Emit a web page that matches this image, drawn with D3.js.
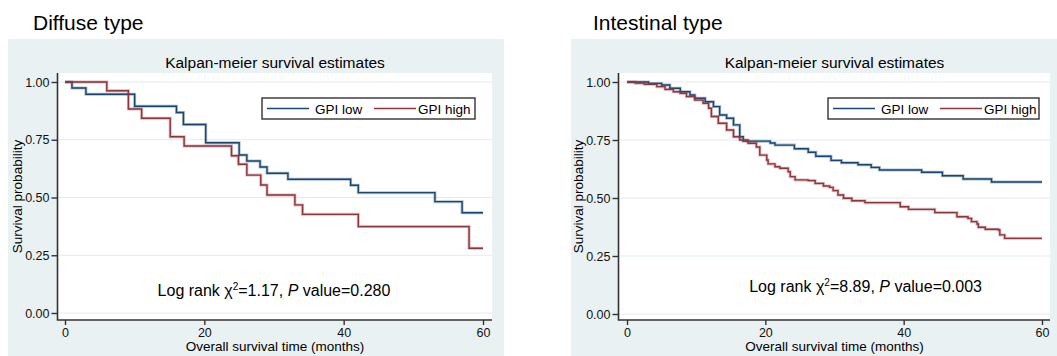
<!DOCTYPE html>
<html>
<head>
<meta charset="utf-8">
<script src="https://cdn.jsdelivr.net/npm/d3@7"></script>
<style>
  html, body { margin: 0; padding: 0; background: #fff; }
  svg { display: block; font-family: "Liberation Sans", Arial, sans-serif; }
</style>
</head>
<body>
<div id="chart"></div>
<script>
// Kaplan-Meier curves (time in months, survival probability)

// Diffuse type
const diffuseLowTime = [0, 1, 3, 10, 16, 17, 20.2, 25, 26.1, 28, 29, 32, 41, 42.1, 53.1, 57, 60];
const diffuseLowSurv = [1, 0.974, 0.947, 0.895, 0.868, 0.816, 0.737, 0.684, 0.658, 0.632, 0.605, 0.579, 0.553, 0.521, 0.482, 0.434, 0.434];
const diffuseHighTime = [0, 6, 9.1, 11, 15.1, 17.1, 23.9, 24.9, 26.1, 28.1, 29, 33, 34.1, 42.1, 58, 60];
const diffuseHighSurv = [1, 0.962, 0.883, 0.843, 0.763, 0.723, 0.681, 0.644, 0.597, 0.554, 0.511, 0.468, 0.427, 0.374, 0.28, 0.28];

// Intestinal type
const intestinalLowTime = [0, 3.1, 5.0, 6.2, 7.7, 9.1, 9.8, 11.3, 12.5, 13.4, 14.4, 15.4, 16.3, 16.8, 20.7, 21.4, 24.2, 26.2, 27.3, 29.5, 31, 33.4, 35.3, 36.5, 42.6, 45.6, 48.6, 52.7, 60];
const intestinalLowSurv = [1, 0.994, 0.987, 0.973, 0.958, 0.944, 0.93, 0.915, 0.894, 0.858, 0.844, 0.815, 0.764, 0.745, 0.737, 0.728, 0.712, 0.697, 0.68, 0.662, 0.652, 0.643, 0.632, 0.621, 0.611, 0.596, 0.582, 0.569, 0.569];
const intestinalHighTime = [0, 1.2, 2.5, 4.3, 5.5, 6.7, 7.7, 8.6, 9.8, 11.0, 11.8, 12.2, 13.2, 14.4, 15.4, 16.3, 17.5, 18.7, 19.2, 20.2, 20.4, 21.4, 22.1, 23.3, 23.6, 24.3, 26.2, 27.2, 28.4, 29.3, 29.8, 30.5, 31.3, 32.5, 34.4, 39.5, 40.7, 44.5, 47.7, 49.3, 49.8, 50.6, 50.8, 51.8, 53.7, 53.9, 54.6, 60];
const intestinalHighSurv = [1, 0.995, 0.99, 0.98, 0.968, 0.958, 0.951, 0.937, 0.922, 0.908, 0.887, 0.851, 0.822, 0.793, 0.764, 0.75, 0.736, 0.72, 0.685, 0.664, 0.647, 0.635, 0.628, 0.613, 0.592, 0.578, 0.575, 0.563, 0.552, 0.546, 0.532, 0.513, 0.499, 0.488, 0.48, 0.462, 0.451, 0.437, 0.419, 0.412, 0.398, 0.388, 0.374, 0.365, 0.362, 0.341, 0.326, 0.326];

const xTicks = [0, 20, 40, 60];
const yTicks = [0, 0.25, 0.5, 0.75, 1];
const seriesNames = ["GPI low", "GPI high"];
const panelTitles = ["Diffuse type", "Intestinal type"];
const plotTitle = "Kalpan-meier survival estimates";
const xTitle = "Overall survival time (months)";
const yTitle = "Survival probability";
const chiValues = ["1.17", "8.89"];
const pValues = ["0.280", "0.003"];

const colors = ["#1a476f", "#90353b"];
const bgColor = "#e9f1f3";

const svg = d3.select("#chart").append("svg")
  .attr("width", 1057)
  .attr("height", 356);

// layout for each panel (pixels)
const panels = [
  { title: panelTitles[0], titleX: 33,
    bg: [8, 39, 496, 317], plot: [58, 73, 492, 320],
    xr: [65, 483], yr: [313, 82],
    legend: [262, 98, 213, 21], yTitleX: 21.5,
    note: [30, 0.1],
    low: [diffuseLowTime, diffuseLowSurv], high: [diffuseHighTime, diffuseHighSurv],
    chi: chiValues[0], p: pValues[0] },
  { title: panelTitles[1], titleX: 593,
    bg: [571, 39, 486, 317], plot: [619, 73, 1050, 320],
    xr: [627, 1042], yr: [314, 82],
    legend: [828, 98, 211, 21], yTitleX: 583,
    note: [34.5, 0.12],
    low: [intestinalLowTime, intestinalLowSurv], high: [intestinalHighTime, intestinalHighSurv],
    chi: chiValues[1], p: pValues[1] }
];

panels.forEach(p => {
  const g = svg.append("g");
  const [px0, py0, px1, py1] = p.plot;

  // panel title
  g.append("text")
    .attr("x", p.titleX).attr("y", 29.5)
    .attr("font-size", "21px")
    .text(p.title);

  // grey graph region
  g.append("rect")
    .attr("x", p.bg[0]).attr("y", p.bg[1])
    .attr("width", p.bg[2]).attr("height", p.bg[3])
    .attr("fill", bgColor);

  // white plot region
  g.append("rect")
    .attr("x", px0).attr("y", py0)
    .attr("width", px1 - px0).attr("height", py1 - py0)
    .attr("fill", "#fff");

  const x = d3.scaleLinear().domain([0, 60]).range(p.xr);
  const y = d3.scaleLinear().domain([0, 1]).range(p.yr);

  // grid lines
  g.selectAll(".grid")
    .data(yTicks)
    .enter().append("line")
      .attr("x1", px0).attr("x2", px1)
      .attr("y1", d => y(d)).attr("y2", d => y(d))
      .attr("stroke", "#e1ebee")
      .attr("stroke-width", 1.2);

  // plot title
  g.append("text")
    .attr("x", (px0 + px1) / 2).attr("y", 68)
    .attr("text-anchor", "middle")
    .attr("font-size", "15.5px")
    .text(plotTitle);

  // axes
  const yAxis = g.append("g")
    .attr("transform", `translate(${px0 - 0.5},0)`)
    .call(d3.axisLeft(y).tickValues(yTicks).tickFormat(d3.format(".2f")).tickSize(6).tickPadding(2));
  const xAxis = g.append("g")
    .attr("transform", `translate(0,${py1})`)
    .call(d3.axisBottom(x).tickValues(xTicks).tickSize(5).tickPadding(3));
  [yAxis, xAxis].forEach(a => {
    a.select(".domain").remove();
    a.selectAll("line").attr("stroke", "#333").attr("stroke-width", 1.4);
    a.selectAll("text").attr("font-size", "12.5px").attr("fill", "#111")
      .attr("font-family", "\"Liberation Sans\", Arial, sans-serif");
  });

  // axis lines along plot region
  g.append("path")
    .attr("d", `M${px0 - 0.5},${py0} V${py1} H${px1}`)
    .attr("fill", "none")
    .attr("stroke", "#333")
    .attr("stroke-width", 1.6);

  // axis titles
  g.append("text")
    .attr("x", (px0 + px1) / 2).attr("y", 351)
    .attr("text-anchor", "middle")
    .attr("font-size", "13.5px")
    .text(xTitle);
  g.append("text")
    .attr("transform", `translate(${p.yTitleX},${(py0 + py1) / 2}) rotate(-90)`)
    .attr("text-anchor", "middle")
    .attr("font-size", "13.5px")
    .text(yTitle);

  // survival curves
  const line = d3.line()
    .x(d => x(d[0]))
    .y(d => y(d[1]))
    .curve(d3.curveStepAfter);
  [p.low, p.high].forEach((s, i) => {
    const pts = d3.zip(s[0], s[1]);
    g.append("path")
      .datum(pts)
      .attr("d", line)
      .attr("fill", "none")
      .attr("stroke", colors[i])
      .attr("stroke-opacity", 0.35)
      .attr("stroke-width", 3);
    g.append("path")
      .datum(pts)
      .attr("d", line)
      .attr("fill", "none")
      .attr("stroke", colors[i])
      .attr("stroke-width", 1.4);
  });

  // legend
  const [lx, ly, lw, lh] = p.legend;
  const lg = g.append("g").attr("transform", `translate(${lx},${ly})`);
  lg.append("rect")
    .attr("width", lw).attr("height", lh)
    .attr("fill", "#fff")
    .attr("stroke", "#333")
    .attr("stroke-width", 1.4);
  const itemX = [5, 112];
  seriesNames.forEach((name, i) => {
    lg.append("line")
      .attr("x1", itemX[i]).attr("x2", itemX[i] + 42)
      .attr("y1", lh / 2).attr("y2", lh / 2)
      .attr("stroke", colors[i])
      .attr("stroke-width", 1.5);
    lg.append("text")
      .attr("x", itemX[i] + (i === 0 ? 48 : 44)).attr("y", lh / 2 + 5)
      .attr("font-size", "13.5px")
      .text(name);
  });

  // log rank annotation
  const note = g.append("text")
    .attr("x", x(p.note[0])).attr("y", y(p.note[1]) + 6)
    .attr("text-anchor", "middle")
    .attr("font-size", "16px");
  note.append("tspan").text("Log rank \u03c7");
  note.append("tspan").attr("dy", -6).attr("font-size", "10px").text("2");
  note.append("tspan").attr("dy", 6).text("=" + p.chi + ", ");
  note.append("tspan").attr("font-style", "italic").text("P");
  note.append("tspan").text(" value=" + p.p);
});
</script>
</body>
</html>
